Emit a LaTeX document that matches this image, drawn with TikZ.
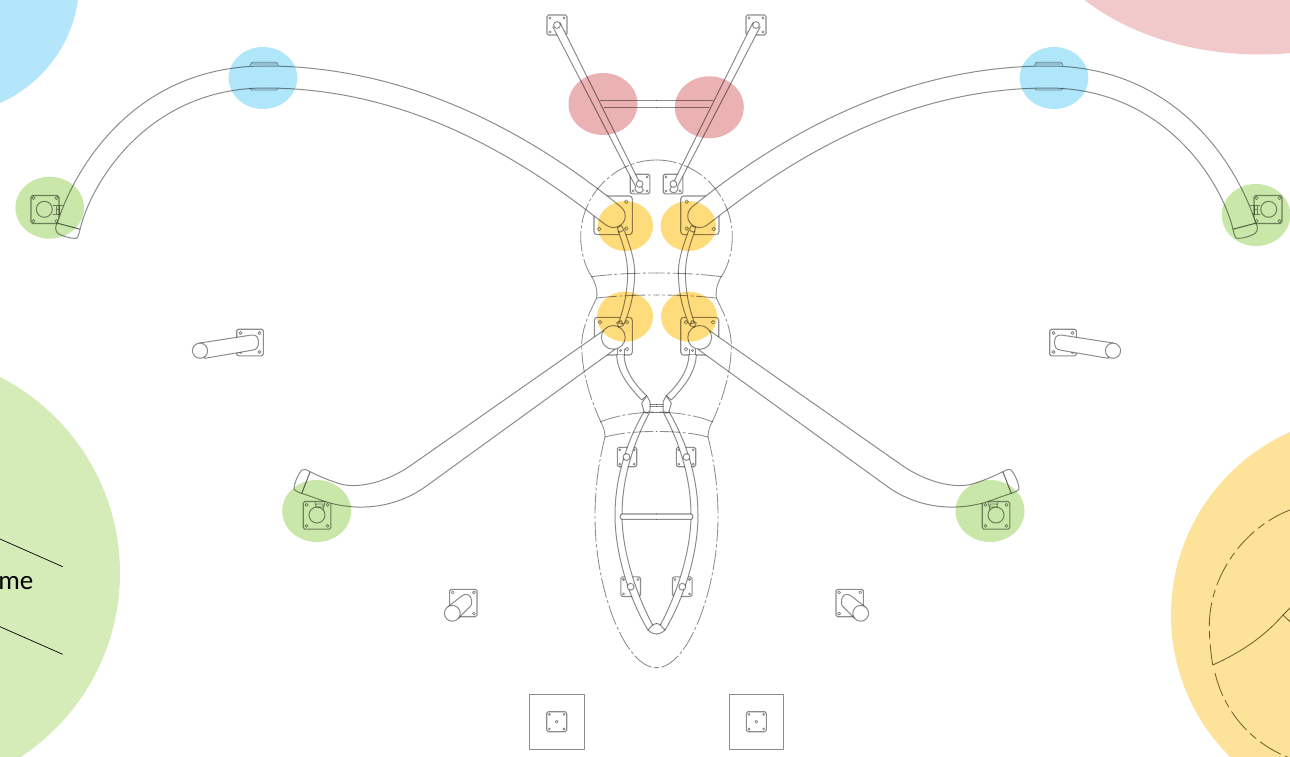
\documentclass[tikz,border=0pt]{standalone}
\usepackage{fontspec}
\setmainfont{Carlito}
\tikzset{
  ln/.style={draw=black,draw opacity=.45,line width=1pt,line cap=round,line join=round},
  thk/.style={ln,line width=1.1pt},
  thn/.style={ln,line width=.75pt},
  bodyline/.style={ln,line width=.85pt,dash pattern=on 20pt off 3pt on 2.5pt off 3pt},
  solidbody/.style={ln,line width=.85pt},
  inkline/.style={draw=black,line width=.7pt},
  brownln/.style={draw=brownink,line width=.8pt},
  brownd/.style={brownln,dash pattern=on 24pt off 5pt on 8pt off 5pt},
  hi/.style={blend mode=multiply},
}
\definecolor{cblue}{HTML}{B3E6FA}
\definecolor{cpink}{HTML}{F1C9CB}
\definecolor{cgreen}{HTML}{D5ECB9}
\definecolor{corange}{HTML}{FDE399}
\definecolor{ered}{HTML}{EBB2B3}
\definecolor{eyellow}{HTML}{FEDC7C}
\definecolor{egreen}{HTML}{C9E7A8}
\definecolor{eblue}{HTML}{B0E6FA}
\definecolor{brownink}{HTML}{6E5A24}
% centred square plate: centre, half side, screw offset, screw radius
\newcommand{\plate}[5]{%
  \draw[thk,rounded corners=1.6pt] (#1-#3,#2-#3) rectangle (#1+#3,#2+#3);
  \foreach \sx in {-1,1} \foreach \sy in {-1,1}
    \draw[thn] (#1+\sx*#4,#2+\sy*#4) circle (#5);
}
% white-filled band, stroked open
\newcommand{\band}[1]{\fill[white] #1 -- cycle; \draw[ln] #1;}
\newcommand{\halfpicture}{%
  % plates below everything
  \plate{557}{25}{10}{7}{1.1}
  \plate{640}{184}{9.8}{7}{1.1}
  \draw[thk,rounded corners=3pt] (632.3,234.6) -- (594,234.6) -- (594,196) -- (632.3,196) -- cycle;
  \draw[thn] (626.3,201.7) circle (1.8) (599.3,229) circle (1.8) (626.3,228.5) circle (1.8);
  \draw[thk,rounded corners=3pt] (632.3,355) -- (594.3,355) -- (594.3,317.3) -- (632.3,317.3) -- cycle;
  \draw[thn] (600,322.3) circle (1.8) (627,322.3) circle (1.8) (627,349.3) circle (1.8) (620.5,350.5) circle (1.2);
  \plate{627}{457}{9.7}{7.2}{1}
  \plate{630.7}{586.7}{9.8}{7.2}{1}
  % horizontal top bar
  \draw[ln] (600,101) -- (656.5,101);
  \draw[ln] (604,107.7) -- (656.5,107.7);
  % slanted top bar
  \band{(552.8,26.8) -- (635.4,186.2) arc (207:27:4.5) -- (560.2,22.8)}
  \draw[ln,fill=white] (557,25) circle (3.4);
  \draw[ln,fill=white] (639.6,184) circle (3.4);
  % left great arm
  \draw[ln,fill=white] (57.3,223.3) .. controls (72,175) and (130,66) .. (265,66) .. controls (400,66) and (520,125) .. (621,207) .. controls (627,212) and (627,222) .. (619,226) .. controls (615,228.5) and (610,228) .. (606,225) -- (598,219) .. controls (510,150) and (400,88) .. (265,88) .. controls (150,88) and (92,180) .. (80,229.3) -- cycle;
  \draw[ln,fill=white] (57.3,223.3) .. controls (55,226) and (55,231) .. (58,233.5) .. controls (62,236) and (70,238.5) .. (76,238.5) .. controls (78,238.5) and (79.5,232) .. (80,229.3) -- cycle;
  \draw[thn] (250,65.5) -- (252,62.3) -- (276.7,62.3) -- (278.3,65.5) (252,64) -- (276.7,64);
  \draw[thn] (250,88) -- (251.7,90) -- (276.7,90) -- (278,88.5);
  % upper spine
  \band{(618,231) .. controls (624,246) and (627,258) .. (627.5,270) .. controls (628,290) and (624,308) .. (618.5,323) -- (624,324) .. controls (631,308) and (635,290) .. (634.6,270) .. controls (634,258) and (630,246) .. (624.5,231)}
  \draw[ln,rotate around={25:(620.5,229)}] (618,226.5) rectangle (623,231.5);
  % left lower arm
  \draw[ln,fill=white] (603.3,330.7) -- (410,466) .. controls (385,483) and (355,490) .. (336.7,482.7) .. controls (325,479) and (317,475) .. (310,471.7) -- (301.7,493.3) .. controls (310,496) and (320,500) .. (330,503) .. controls (360,511) and (395,508) .. (425,487) -- (615,349.3) -- cycle;
  \draw[ln,fill=white] (310,471.7) .. controls (306,469.5) and (303.5,468.5) .. (302,470) .. controls (298,474) and (294,484) .. (294,489) .. controls (295,491) and (299,492.5) .. (301.7,493.3) -- cycle;
  \draw[ln,fill=white] (613.3,337.4) circle (11.9);
  \draw[ln,rotate around={25:(620,324)}] (617.5,321.5) rectangle (622.5,326.5);
  % pelvis links
  \draw[ln] (617.7,349) -- (617.7,355) (624,349) -- (624,355);
  \band{(616.7,355) .. controls (617,368) and (624,382) .. (641.7,400) -- (646.7,395.7) .. controls (632,382) and (624.5,368) .. (624,355)}
  % lower ring
  \fill[white] (644,411.7) .. controls (632,432) and (615,470) .. (615,515) .. controls (615,558) and (632,604) .. (648,630) .. controls (651,633) and (654,634) .. (656.5,634) -- (656.5,623.6) .. controls (655.5,623.6) and (654,624) .. (652.7,625) .. controls (639,600) and (622,555) .. (622,515) .. controls (622,470) and (639,432) .. (650,411.7) -- cycle;
  \draw[ln] (644,411.7) .. controls (632,432) and (615,470) .. (615,515) .. controls (615,558) and (632,604) .. (648,630);
  \draw[ln] (650,411.7) .. controls (639,432) and (622,470) .. (622,515) .. controls (622,555) and (639,600) .. (652.7,625);
  \draw[ln] (648,630) .. controls (651,633) and (654,634) .. (656.5,634);
  \draw[ln] (652.7,625) .. controls (654,624) and (655.5,623.6) .. (656.5,623.6);
  \draw[ln] (648,630) -- (652.7,625);
  % junction
  \draw[ln,fill=white] (646.7,395.7) -- (650,401.7) -- (650,410.7) -- (647.3,413.3) -- (644,411.7) -- (641.7,403.3) -- cycle;
  \draw[ln] (650,404) -- (656.5,404) (650,406) -- (656.5,406) (650,412.5) -- (656.5,412.5);
  % ring details
  \fill[white] (656.5,514) -- (622,514) .. controls (619.5,514) and (619.5,519.3) .. (622,519.3) -- (656.5,519.3) -- cycle;
  \draw[thk] (656.5,514) -- (622,514) .. controls (619.5,514) and (619.5,519.3) .. (622,519.3) -- (656.5,519.3);
  \draw[ln,fill=white] (626.5,457) circle (3.4);
  \draw[ln,fill=white] (630.7,586.7) circle (3.4);
  % body outline
  \draw[bodyline] (656.5,160) .. controls (615,160) and (580.7,195) .. (580.7,237) .. controls (580.7,250) and (584,265) .. (591.7,276.7);
  \draw[solidbody] (591.7,276.7) .. controls (596,284) and (597.5,290) .. (596.7,298);
  \draw[bodyline] (591.7,276.7) .. controls (612,274) and (635,273) .. (656.5,273);
  \draw[bodyline] (596.7,298) .. controls (615,296) and (635,295) .. (656.5,295);
  \draw[bodyline] (596.7,298) .. controls (588,315) and (581.7,330) .. (581.7,345) .. controls (581.7,372) and (590,398) .. (600.7,421.7);
  \draw[solidbody] (600.7,421.7) .. controls (604,428) and (605,432) .. (605,437);
  \draw[bodyline] (600.7,421.7) .. controls (618,415) and (636,412.5) .. (656.5,412);
  \draw[bodyline] (605,437) .. controls (620,433) and (636,431.5) .. (656.5,431.5);
  \draw[bodyline] (605,437) .. controls (598,465) and (595,490) .. (595,516.7) .. controls (595,590) and (625,667.7) .. (656.5,667.7);
  % side stubs
  \plate{250}{342.5}{13.3}{9.5}{1.5}
  \draw[ln,fill=white] (199.3,343.1) -- (251.7,335) .. controls (257,334.5) and (258.5,338) .. (258.5,342.5) .. controls (258.5,347) and (256.5,349.5) .. (253.3,350) -- (205,358.3) -- cycle;
  \draw[ln,fill=white] (200,350.7) circle (7.6);
  \plate{463.3}{603}{13.7}{10.6}{1.5}
  \draw[ln,fill=white] (448,606.8) -- (461.7,596) .. controls (466,592.5) and (471,595) .. (471.5,600) .. controls (471.8,603) and (471.5,605) .. (470.7,606) -- (458.3,618.3) -- cycle;
  \draw[ln,fill=white] (452.3,613.3) circle (7.9);
  % bottom
  \draw[ln] (529.3,694.3) rectangle (584,749);
  \plate{556.7}{721.7}{10}{7.3}{1}
  \draw[thn] (556.7,721.7) circle (1.5);
}
\begin{document}
\begin{tikzpicture}[x=1pt,y=-1pt]
\useasboundingbox (0,0) rectangle (1290,757);
\clip (0,0) rectangle (1290,757);
% large corner discs
\fill[cblue] (-53.7,-18.7) circle (133);
\fill[cpink] (1260,-110) ellipse (236 and 164.5);
\fill[cgreen] (-100,573) circle (220);
\fill[corange] (1371,615) circle (200);
% end plates of arms, under the arms
\foreach \m/\s in {0/1,1313/-1}{
\begin{scope}[xshift=\m pt,xscale=\s]
\plate{45}{209.5}{14}{11.5}{1.6}
\draw[ln] (44.3,209.3) circle (8);
\draw[thn] (53,205.7) -- (63,205.7) (53,214) -- (63,214) (56,205.7) rectangle (59,214) (56,209) -- (59,209);
\plate{317}{515.3}{13.8}{10.5}{1.5}
\draw[ln] (317,515) circle (8);
\draw[thn] (315,502) -- (316,507) (325,502) -- (323,510) (316,507) rectangle (323,504);
\end{scope}}
% the drawing, left half and its mirror
\halfpicture
\begin{scope}[xshift=1313pt,xscale=-1]
\halfpicture
\end{scope}
% highlight ellipses
\fill[ered,hi] (603,104) ellipse (34.5 and 31);
\fill[ered,hi] (709.3,107.3) ellipse (34.5 and 31);
\fill[eyellow,hi] (625.3,226) ellipse (27.7 and 25);
\fill[eyellow,hi] (688.3,226) ellipse (27.7 and 25);
\fill[eyellow,hi] (625,316.7) ellipse (28 and 25);
\fill[eyellow,hi] (689,316.7) ellipse (28 and 25);
\fill[eblue,hi] (263,78) ellipse (34.3 and 31);
\fill[eblue,hi] (1054,78) ellipse (34.3 and 31);
\fill[egreen,hi] (49.7,207.7) ellipse (34.3 and 31);
\fill[egreen,hi] (1256,215) ellipse (34.3 and 31);
\fill[egreen,hi] (316.7,511) ellipse (34.5 and 31);
\fill[egreen,hi] (990,511) ellipse (34.5 and 31);
% marks over the large discs
\draw[inkline] (0,539) -- (62.7,566.7);
\draw[inkline] (0,626.7) -- (62.7,654.3);
\node[anchor=base east,inner sep=0pt,text=black,font=\fontsize{27}{27}\selectfont] (txt) at (33.5,589) {me};
\draw[brownd] (1290,510) .. controls (1245,527) and (1209,575) .. (1209.3,626.7) .. controls (1209.4,640) and (1211,655) .. (1212.7,665);
\draw[brownd] (1215,673) .. controls (1225,715) and (1255,745) .. (1290,758);
\draw[brownln] (1212.7,665) .. controls (1240,653) and (1265,636) .. (1283,615) -- (1290,608);
\draw[brownln] (1283,615) -- (1290,621.7);
\end{tikzpicture}
\end{document}
